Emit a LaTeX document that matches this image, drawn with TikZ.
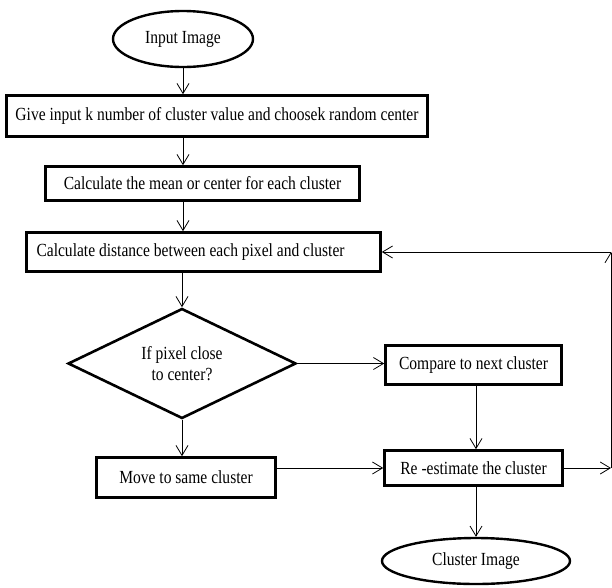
\documentclass[tikz,border=0pt]{standalone}
\usepackage{fontspec}
\setmainfont{Liberation Serif}[FakeStretch=0.84]
\usetikzlibrary{shapes.geometric,arrows.meta}

\begin{document}
\begin{tikzpicture}[x=1pt, y=-1pt,
  >={Straight Barb[length=10pt,width=12pt]},
  every node/.style={font=\fontsize{18.5}{21}\selectfont, inner sep=0pt},
  block/.style={rectangle, draw, line width=2.6pt},
  terminal/.style={ellipse, draw, line width=2.4pt},
  decision/.style={diamond, draw, line width=2.6pt, align=center, aspect=2},
  line/.style={line width=0.8pt}]
\useasboundingbox (0,0) rectangle (612,587);
\node at (183, 39)    (start) [terminal, minimum width=140, minimum height=56] {Input Image};
\node at (217, 116)   (give)  [block, minimum width=421, minimum height=41] {Give input k number of cluster value and choosek random center};
\node at (202.5, 183.5) (mean) [block, minimum width=314, minimum height=34] {Calculate the mean or center for each cluster};
\node at (203.5, 252) (dist)  [block, text width=334, inner xsep=10pt, align=flush left, minimum height=39] {Calculate distance between each pixel and cluster};
\node at (182, 363.5) (dec)   [decision, minimum width=228, minimum height=110] {If pixel close\\to center?};
\node at (186, 477.5) (move)  [block, minimum width=179, minimum height=40] {Move to same cluster};
\node at (473.5, 365) (cmp)   [block, minimum width=176, minimum height=39] {Compare to next cluster};
\node at (473.5, 468) (reest) [block, minimum width=178, minimum height=35] {Re -estimate the cluster};
\node at (476, 561)   (done)  [terminal, minimum width=188, minimum height=46] {Cluster Image};
\coordinate (loop) at (611, 468);
\draw [->, line] (start.south) -- (start.south |- give.north);
\draw [->, line] (give.south -| start.south) -- (mean.north -| start.south);
\draw [->, line] (mean.south -| start.south) -- (dist.north -| start.south);
\draw [->, line] (dist.south -| dec.north) -- (dec.north);
\draw [->, line] (dec.south) -- (dec.south |- move.north);
\draw [->, line] (dec.east) -- (dec.east -| cmp.west);
\draw [->, line] (cmp.south -| done.north) -- (reest.north -| done.north);
\draw [->, line] (move.east |- reest.west) -- (reest.west);
\draw [->, line] (reest.south -| done.north) -- (done.north);
\draw [->, line] (reest.east) -- (loop);
\draw [->, line] (loop) -- (loop |- dist.east);
\draw [->, line] (loop |- dist.east) -- (dist.east);
\end{tikzpicture}
\end{document}
